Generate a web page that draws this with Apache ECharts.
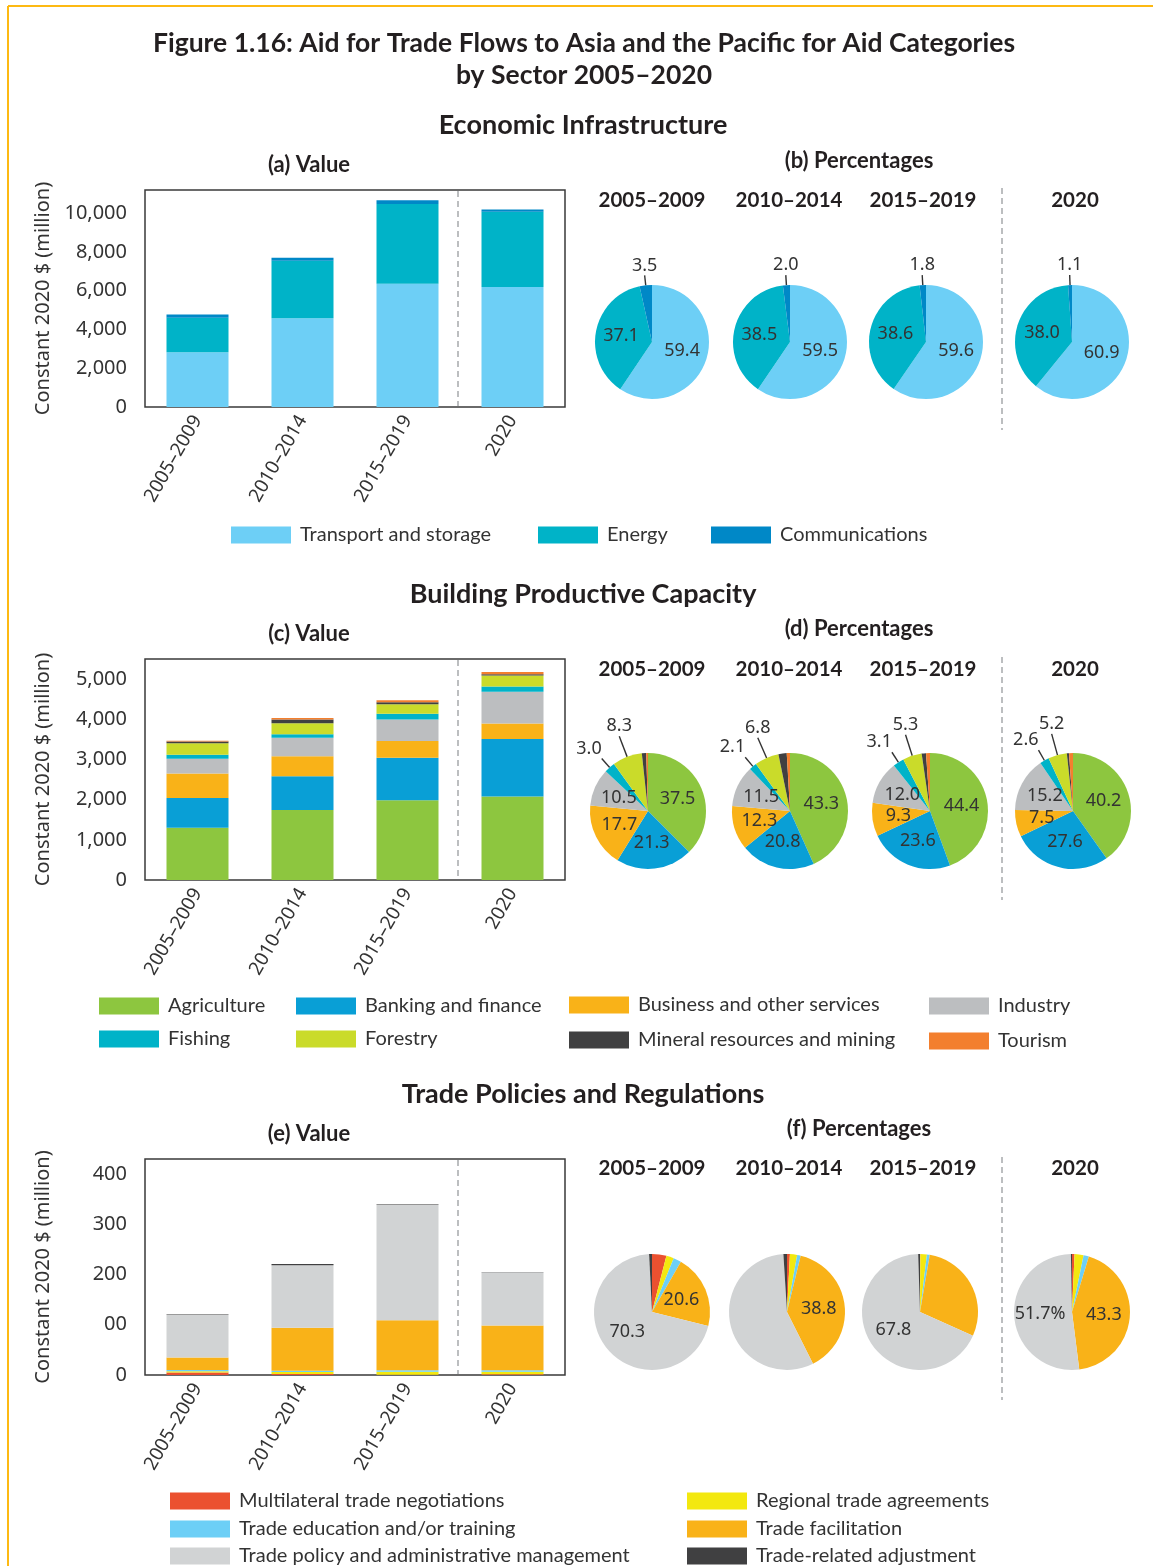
<!DOCTYPE html>
<html>
<head>
<meta charset="utf-8">
<title>Aid for Trade Flows to Asia and the Pacific</title>
<script src="https://cdn.jsdelivr.net/npm/echarts@6/dist/echarts.min.js"></script>
<style>
  html, body { margin: 0; padding: 0; background: #fff; }
  #chart { width: 1153px; height: 1566px; }
</style>
</head>
<body>
<div id="chart"></div>
<script>
var periods = ['2005–2009', '2010–2014', '2015–2019', '2020'];

// (a) Economic infrastructure, constant 2020 $ million
var eiNames = ['Transport and storage', 'Energy', 'Communications'];
var eiTransport = [2830, 4580, 6360, 6200];
var eiEnergy = [1780, 2970, 4120, 3880];
var eiComms = [170, 155, 190, 112];
var eiTicks = [0, 2000, 4000, 6000, 8000, 10000];
var eiTickLabels = ['0', '2,000', '4,000', '6,000', '8,000', '10,000'];
// (b) shares in %
var eiShares = [
  [59.4, 37.1, 3.5],
  [59.5, 38.5, 2.0],
  [59.6, 38.6, 1.8],
  [60.9, 38.0, 1.1]
];

// (c) Building productive capacity
var bpcNames = ['Agriculture', 'Banking and finance', 'Business and other services', 'Industry',
  'Fishing', 'Forestry', 'Mineral resources and mining', 'Tourism'];
var bpcAgri = [1300, 1745, 1987, 2080];
var bpcBank = [740, 838, 1056, 1428];
var bpcBusiness = [610, 496, 416, 388];
var bpcIndustry = [365, 463, 537, 787];
var bpcFishing = [105, 85, 139, 135];
var bpcForestry = [285, 274, 237, 269];
var bpcMining = [40, 93, 54, 31];
var bpcTourism = [18, 36, 49, 57];
var bpcTicks = [0, 1000, 2000, 3000, 4000, 5000];
var bpcTickLabels = ['0', '1,000', '2,000', '3,000', '4,000', '5,000'];
// (d) shares in %
var bpcShares = [
  [37.5, 21.3, 17.7, 10.5, 3.0, 8.3, 1.2, 0.5],
  [43.3, 20.8, 12.3, 11.5, 2.1, 6.8, 2.3, 0.9],
  [44.4, 23.6, 9.3, 12.0, 3.1, 5.3, 1.2, 1.1],
  [40.2, 27.6, 7.5, 15.2, 2.6, 5.2, 0.6, 1.1]
];

// (e) Trade policies and regulations
var tprNames = ['Multilateral trade negotiations', 'Regional trade agreements', 'Trade education and/or training',
  'Trade facilitation', 'Trade policy and administrative management', 'Trade-related adjustment'];
var tprMultilateral = [4.8, 1.8, 0.3, 1.4];
var tprRegional = [2.5, 4.4, 6.0, 5.1];
var tprEducation = [2.7, 2.2, 3.0, 3.1];
var tprFacilitation = [25, 85.7, 99.5, 88.8];
var tprPolicy = [85, 124.6, 230.5, 106];
var tprAdjustment = [1.0, 2.2, 0.9, 0.6];
var tprTicks = [0, 100, 200, 300, 400];
var tprTickLabels = ['0', '00', '200', '300', '400'];
// (f) shares in %
var tprShares = [
  [4.0, 2.1, 2.2, 20.6, 70.3, 0.8],
  [0.8, 2.0, 1.0, 38.8, 56.4, 1.0],
  [0.1, 1.8, 0.8, 29.0, 67.8, 0.5],
  [0.7, 2.5, 1.5, 43.3, 51.7, 0.3]
];

var eiColors = ['#6dcff6', '#00b3c8', '#0088c7'];
var bpcColors = ['#8dc63f', '#099fd6', '#f9b218', '#bcbec0', '#00b3c8', '#cadb2a', '#404041', '#f37f2e'];
var tprColors = ['#eb5130', '#f3e80f', '#6dcff6', '#f9b218', '#d1d3d4', '#404041'];

// label modes for pie slices: 0 none, 1 inside, 2 outside with line, 3 inside with %
var eiModes = [[1, 1, 2], [1, 1, 2], [1, 1, 2], [1, 1, 2]];
var bpcModes = [
  [1, 1, 1, 1, 2, 2, 0, 0], [1, 1, 1, 1, 2, 2, 0, 0],
  [1, 1, 1, 1, 2, 2, 0, 0], [1, 1, 1, 1, 2, 2, 0, 0]
];
var tprModes = [[0, 0, 0, 1, 1, 0], [0, 0, 0, 1, 0, 0], [0, 0, 0, 0, 1, 0], [0, 0, 0, 1, 3, 0]];
// leader line lengths for outside labels
var eiLineLen = [0, 0, 10];
var bpcLineLen = [0, 0, 0, 0, 12, 22, 0, 0];
var tprLineLen = [0, 0, 0, 0, 0, 0];

var chart = echarts.init(document.getElementById('chart'));

var txt = '#333';
var axisFont = 'Noto Sans';
var headFont = 'Lato';

function head(text, cx, cy, size, lh) {
  lh = lh || size * 1.2;
  return {
    text: text, left: cx, top: cy - lh / 2, textAlign: 'center', padding: 0,
    textStyle: { fontFamily: headFont, fontWeight: 'bold', fontSize: size, color: '#231f20', lineHeight: lh }
  };
}

var titles = [
  head('Figure 1.16: Aid for Trade Flows to Asia and the Pacific for Aid Categories\nby Sector 2005–2020', 584, 43, 26.5, 32),
  head('Economic Infrastructure', 583, 125, 27),
  head('(a) Value', 309, 165, 22),
  head('(b) Percentages', 859, 161, 22),
  head('Building Productive Capacity', 583, 594, 27),
  head('(c) Value', 309, 634, 22),
  head('(d) Percentages', 859, 629, 22),
  head('Trade Policies and Regulations', 583, 1094, 27),
  head('(e) Value', 309, 1134, 22),
  head('(f) Percentages', 859, 1129, 22)
];
var yearX = [652, 789, 923, 1075];
[200, 669, 1168].forEach(function (y) {
  periods.forEach(function (p, i) { titles.push(head(p, yearX[i], y, 20.5)); });
});

var grids = [
  { left: 145, top: 190, width: 420, height: 217 },
  { left: 145, top: 659, width: 420, height: 221 },
  { left: 145, top: 1159, width: 420, height: 216 }
].map(function (g) {
  g.show = true; g.borderColor = '#3a3a3a'; g.borderWidth = 1.5; g.backgroundColor = 'transparent';
  return g;
});

function xAxis(gi) {
  return {
    type: 'category', gridIndex: gi, data: periods,
    axisLine: { show: false }, axisTick: { show: false },
    axisLabel: { rotate: 60, margin: 10, padding: [0, 0, 0, 0], fontFamily: axisFont, fontSize: 19, color: txt }
  };
}
function yAxis(gi, max, interval, ticks, labels) {
  return {
    type: 'value', gridIndex: gi, min: 0, max: max, interval: interval,
    name: 'Constant 2020 $ (million)', nameLocation: 'middle', nameGap: 92, nameRotate: 90,
    nameTextStyle: { fontFamily: axisFont, fontSize: 20, color: txt },
    axisLine: { show: false }, axisTick: { show: false }, splitLine: { show: false },
    axisLabel: {
      margin: 18, fontFamily: axisFont, fontSize: 20, color: txt,
      formatter: function (v) { var i = ticks.indexOf(v); return i < 0 ? '' : labels[i]; }
    }
  };
}

function bar(name, gi, stack, values, color) {
  return {
    name: name, type: 'bar', xAxisIndex: gi, yAxisIndex: gi, stack: stack,
    data: values, barWidth: 62, itemStyle: { color: color }, emphasis: { disabled: true }
  };
}

function pie(vals, names, colors, modes, lineLen, center, r) {
  return {
    type: 'pie', center: center, radius: r, startAngle: 90, clockwise: true,
    avoidLabelOverlap: false, emphasis: { disabled: true }, silent: true,
    label: {
      color: txt, fontFamily: axisFont, fontSize: 18,
      formatter: function (p) { return modes[p.dataIndex] === 3 ? p.value.toFixed(1) + '%' : p.value.toFixed(1); }
    },
    labelLine: { length: 12, length2: 0, lineStyle: { color: '#333', width: 1.4 } },
    labelLayout: function (p) {
      if (modes[p.dataIndex] !== 2 || !p.labelLinePoints) return {};
      var pts = p.labelLinePoints;
      var s = pts[0], e = pts[pts.length - 1];
      var dx = e[0] - s[0], dy = e[1] - s[1];
      var align = Math.abs(dx) < Math.abs(dy) * 0.5 ? 'center' : (dx < 0 ? 'right' : 'left');
      return { x: e[0], y: e[1] - 1, align: align, verticalAlign: 'bottom', labelLinePoints: pts };
    },
    data: vals.map(function (v, i) {
      var m = modes[i];
      return {
        value: v, name: names[i], itemStyle: { color: colors[i] },
        label: { show: m > 0, position: m === 2 ? 'outside' : 'inside' },
        labelLine: { show: m === 2, length: lineLen[i] || 12 }
      };
    })
  };
}

var series = [
  bar(eiNames[0], 0, 'ei', eiTransport, eiColors[0]),
  bar(eiNames[1], 0, 'ei', eiEnergy, eiColors[1]),
  bar(eiNames[2], 0, 'ei', eiComms, eiColors[2]),
  bar(bpcNames[0], 1, 'bpc', bpcAgri, bpcColors[0]),
  bar(bpcNames[1], 1, 'bpc', bpcBank, bpcColors[1]),
  bar(bpcNames[2], 1, 'bpc', bpcBusiness, bpcColors[2]),
  bar(bpcNames[3], 1, 'bpc', bpcIndustry, bpcColors[3]),
  bar(bpcNames[4], 1, 'bpc', bpcFishing, bpcColors[4]),
  bar(bpcNames[5], 1, 'bpc', bpcForestry, bpcColors[5]),
  bar(bpcNames[6], 1, 'bpc', bpcMining, bpcColors[6]),
  bar(bpcNames[7], 1, 'bpc', bpcTourism, bpcColors[7]),
  bar(tprNames[0], 2, 'tpr', tprMultilateral, tprColors[0]),
  bar(tprNames[1], 2, 'tpr', tprRegional, tprColors[1]),
  bar(tprNames[2], 2, 'tpr', tprEducation, tprColors[2]),
  bar(tprNames[3], 2, 'tpr', tprFacilitation, tprColors[3]),
  bar(tprNames[4], 2, 'tpr', tprPolicy, tprColors[4]),
  bar(tprNames[5], 2, 'tpr', tprAdjustment, tprColors[5])
];

var eiCenters = [[652, 342], [790, 342], [926, 342], [1072, 342]];
var bpcCenters = [[648, 811], [790, 811], [930, 811], [1073, 811]];
var tprCenters = [[652, 1312], [787, 1312], [920, 1312], [1072, 1312]];
for (var k = 0; k < 4; k++) {
  series.push(pie(eiShares[k], eiNames, eiColors, eiModes[k], eiLineLen, eiCenters[k], 57));
  series.push(pie(bpcShares[k], bpcNames, bpcColors, bpcModes[k], bpcLineLen, bpcCenters[k], 58));
  series.push(pie(tprShares[k], tprNames, tprColors, tprModes[k], tprLineLen, tprCenters[k], 58));
}

function leg(name, left, cy) {
  return {
    data: [name], left: left, top: cy - 10, padding: 0, icon: 'rect',
    itemWidth: 60, itemHeight: 17, selectedMode: false,
    textStyle: { fontFamily: headFont, fontSize: 20, color: txt, padding: [0, 0, 0, 4] }
  };
}
var legends = [
  leg(eiNames[0], 231, 535), leg(eiNames[1], 538, 535), leg(eiNames[2], 711, 535),
  leg(bpcNames[0], 99, 1006), leg(bpcNames[1], 296, 1006), leg(bpcNames[2], 569, 1005), leg(bpcNames[3], 929, 1006),
  leg(bpcNames[4], 99, 1039), leg(bpcNames[5], 296, 1039), leg(bpcNames[6], 569, 1040), leg(bpcNames[7], 929, 1041),
  leg(tprNames[0], 170, 1501), leg(tprNames[1], 687, 1501),
  leg(tprNames[2], 170, 1529), leg(tprNames[3], 687, 1529),
  leg(tprNames[4], 170, 1556), leg(tprNames[5], 687, 1556)
];

function dash(x, y1, y2) {
  return {
    type: 'line', silent: true, z: 10,
    shape: { x1: x, y1: y1, x2: x, y2: y2 },
    style: { stroke: '#a7a9ac', lineWidth: 1.5, lineDash: [6, 4] }
  };
}

var option = {
  animation: false,
  backgroundColor: '#fff',
  title: titles,
  legend: legends,
  grid: grids,
  xAxis: [xAxis(0), xAxis(1), xAxis(2)],
  yAxis: [
    yAxis(0, 11200, 2000, eiTicks, eiTickLabels),
    yAxis(1, 5500, 1000, bpcTicks, bpcTickLabels),
    yAxis(2, 430, 100, tprTicks, tprTickLabels)
  ],
  series: series,
  graphic: [
    { type: 'line', silent: true, shape: { x1: 8, y1: 6, x2: 1153, y2: 6 }, style: { stroke: '#fdb913', lineWidth: 2 } },
    { type: 'line', silent: true, shape: { x1: 8, y1: 6, x2: 8, y2: 1566 }, style: { stroke: '#fdb913', lineWidth: 2 } },
    dash(458, 191, 406), dash(458, 660, 879), dash(458, 1160, 1374),
    dash(1002, 188, 430), dash(1002, 657, 900), dash(1002, 1157, 1400)
  ]
};

chart.setOption(option);
</script>
</body>
</html>
